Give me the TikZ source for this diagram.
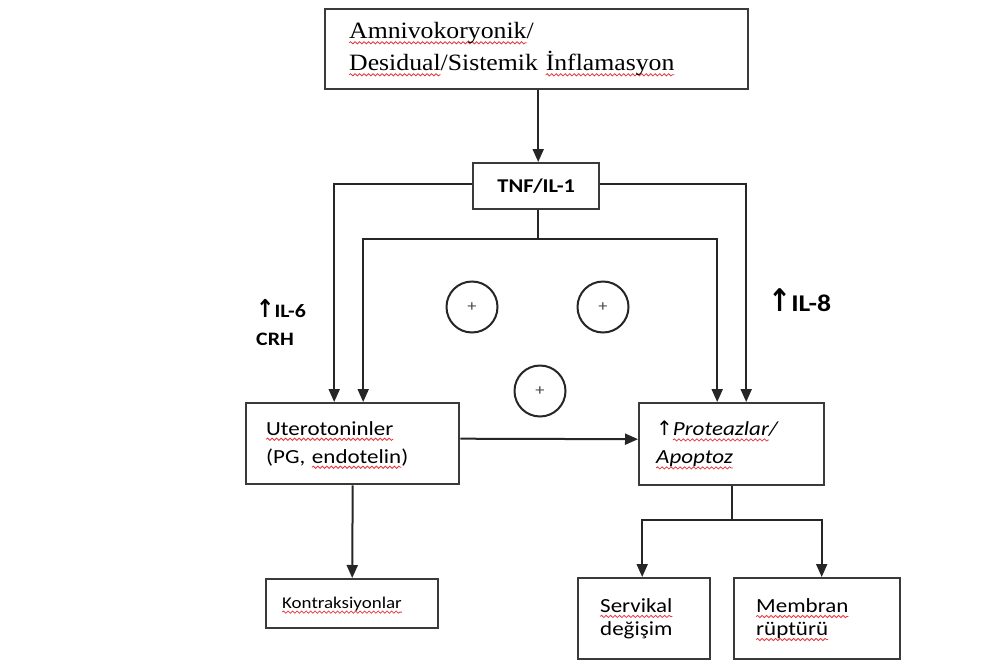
\documentclass[tikz,border=0pt]{standalone}
\usepackage{fontspec}
\setmainfont{Liberation Serif}[FakeStretch=1.1]
\setsansfont{Carlito}[FakeStretch=1.15]
\newfontfamily\arrowfont{DejaVu Sans}
\usetikzlibrary{arrows.meta,decorations.pathmorphing}
\definecolor{fcInk}{HTML}{262626}
\definecolor{fcEdge}{HTML}{3A3A3A}
\definecolor{fcWave}{HTML}{E5393E}
\newsavebox\fcwavebox
\newdimen\fcwavewd
\newcommand\redwave[1]{\leavevmode\sbox\fcwavebox{#1}\fcwavewd=\wd\fcwavebox
  \rlap{\tikz[overlay,x=1pt,y=1pt]\draw[fcWave,line width=0.8pt,decorate,
    decoration={snake,amplitude=1.1pt,segment length=4.5pt}] (0,-4) -- (\fcwavewd,-4);}%
  \usebox\fcwavebox}
\newcommand\upar{{\arrowfont\char"2191}}
\newcommand\bigupar{{\arrowfont\bfseries\scalebox{1.15}[1.3]{\char"2191}}}
\tikzset{
  box/.style     ={draw=fcEdge,line width=2.4pt,rectangle,fill=white,inner ysep=0pt,
                   align=left,font=\sffamily\fontsize{20}{28}\selectfont},
  topbox/.style  ={box,font=\rmfamily\fontsize{23.4}{32}\selectfont},
  smallbox/.style={box,font=\sffamily\fontsize{20}{23}\selectfont},
  plus/.style    ={draw=fcInk,line width=2pt,circle,minimum size=51pt,inner sep=0pt,
                   text=fcInk!85,font=\sffamily\fontsize{16}{16}\selectfont},
  flow/.style    ={-{Triangle[length=13pt,width=11pt]},fcInk,line width=2pt},
  link/.style    ={fcInk,line width=2pt},
  ilbl/.style    ={inner sep=0pt,align=left,font=\sffamily\bfseries\fontsize{19}{28}\selectfont},
}

\begin{document}
\begin{tikzpicture}[x=1pt,y=-1pt]
\useasboundingbox[fill=white] (0,0) rectangle (985,664);

\node[topbox,anchor=north west,minimum height=80pt,inner xsep=24pt,text width=375pt] (src) at (324,8)
  {\redwave{Amnivokoryonik}/\\\redwave{Desidual}/Sistemik \redwave{İnflamasyon}};
\node[box,anchor=north west,minimum height=46pt,text width=126pt,inner xsep=0pt,align=center,
      font=\sffamily\bfseries\fontsize{19.5}{19.5}\selectfont] (tnf) at (472,162) {TNF/IL-1};

\node[box,anchor=north west,minimum height=81pt,inner xsep=20pt,text width=173pt] (utero) at (245,402)
  {\redwave{Uterotoninler}\\(PG, \redwave{endotelin})};
\node[box,anchor=north west,minimum height=82pt,inner xsep=17pt,text width=151pt] (prot) at (638,402)
  {\upar\textit{\redwave{Proteazlar}/}\\\textit{\redwave{Apoptoz}}};

\node[box,anchor=north west,minimum height=49pt,inner xsep=16pt,text width=140pt,
      font=\sffamily\fontsize{16.5}{20}\selectfont] (kontr) at (265,578) {\redwave{Kontraksiyonlar}};
\node[smallbox,anchor=north west,minimum height=81pt,inner xsep=22pt,text width=88pt] (serv) at (577,577)
  {\redwave{Servikal}\\değişim};
\node[smallbox,anchor=north west,minimum height=81pt,inner xsep=22pt,text width=122pt] (memb) at (733,577)
  {\redwave{Membran}\\\redwave{rüptürü}};

\node[plus] (pA) at (472,307) {+};
\node[plus] (pB) at (603,307) {+};
\node[plus] (pC) at (540,391) {+};

\node[ilbl,anchor=west] (il6) at (256,323) {\bigupar IL-6\\CRH};
\node[ilbl,anchor=base west,font=\sffamily\bfseries\fontsize{24}{24}\selectfont] (il8) at (768,311)
  {\bigupar IL-8};

\draw[flow] ([xshift=1.5pt]src.south) -- ([xshift=2pt]tnf.north);
\draw[flow] ([yshift=2pt]tnf.west) -| ([xshift=-18.5pt]utero.north);
\draw[flow] ([yshift=2pt]tnf.east) -| ([xshift=14.5pt]prot.north);
\draw[link] ([xshift=2pt]tnf.south) -- ++(0,29) coordinate (split);
\draw[flow] (split) -| ([xshift=10.5pt]utero.north);
\draw[flow] (split) -| ([xshift=-14.5pt]prot.north);

\draw[flow] ([yshift=5pt]utero.east) -- ([yshift=5pt]prot.west);
\draw[flow] (utero.south) -- (kontr.north);

\draw[link] (prot.south) -- ++(0,34) coordinate (fork);
\draw[flow] (fork) -| ([xshift=-2pt]serv.north);
\draw[flow] (fork) -| ([xshift=4.5pt]memb.north);
\end{tikzpicture}
\end{document}
